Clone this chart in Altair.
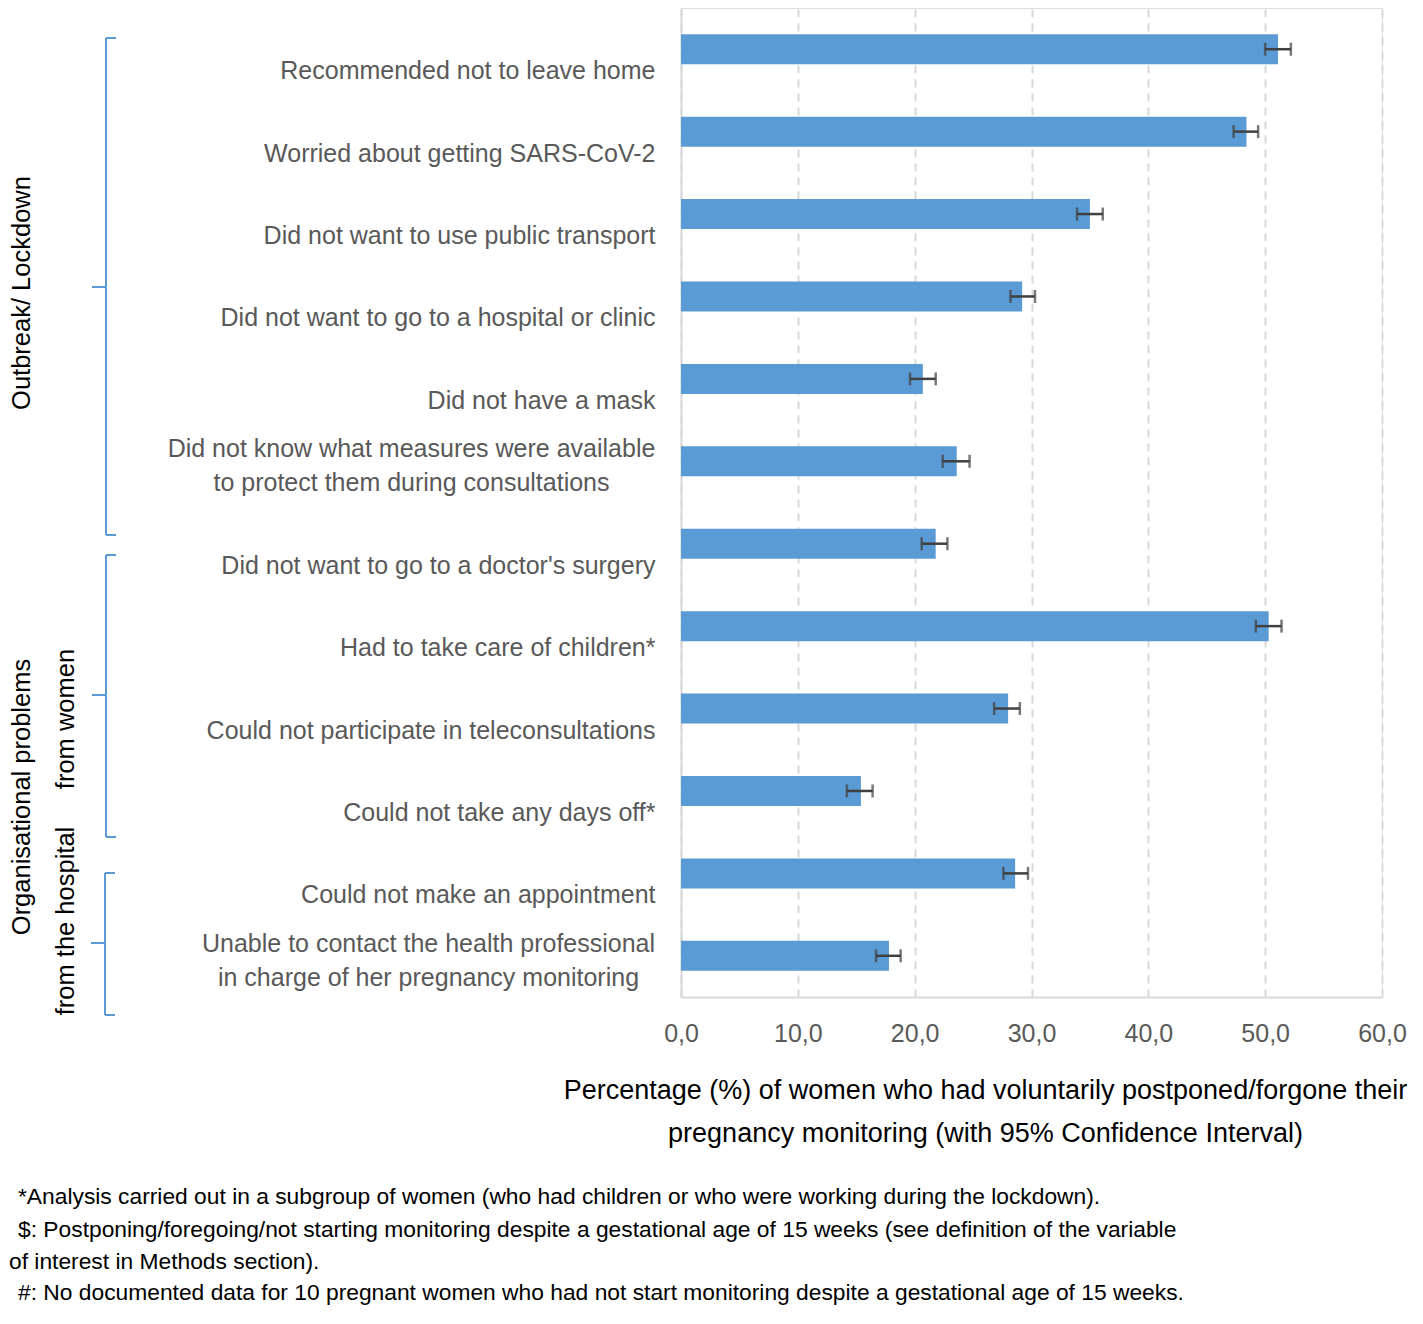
import altair as alt
import pandas as pd

# ---------------- data ----------------
categories = [
    "Recommended not to leave home",
    "Worried about getting SARS-CoV-2",
    "Did not want to use public transport",
    "Did not want to go to a hospital or clinic",
    "Did not have a mask",
    "Did not know what measures were available|to protect them during consultations",
    "Did not want to go to a doctor's surgery",
    "Had to take care of children*",
    "Could not participate in teleconsultations",
    "Could not take any days off*",
    "Could not make an appointment",
    "Unable to contact the health professional|in charge of her pregnancy monitoring",
]
pct = [51.1, 48.4, 35.0, 29.2, 20.7, 23.6, 21.8, 50.3, 28.0, 15.4, 28.6, 17.8]
ci_low = [50.0, 47.3, 33.9, 28.2, 19.6, 22.4, 20.6, 49.2, 26.8, 14.2, 27.6, 16.7]
ci_high = [52.2, 49.4, 36.1, 30.3, 21.8, 24.7, 22.8, 51.4, 29.0, 16.4, 29.7, 18.8]
x_ticks = [0, 10, 20, 30, 40, 50, 60]

x_title = [
    "Percentage (%) of women who had voluntarily postponed/forgone their",
    "pregnancy monitoring (with 95% Confidence Interval)",
]
group_labels = ["Outbreak/ Lockdown", "Organisational problems", "from women", "from the hospital"]
footnotes = [
    "*Analysis carried out in a subgroup of women (who had children or who were working during the lockdown).",
    "$: Postponing/foregoing/not starting monitoring despite a gestational age of 15 weeks (see definition of the variable",
    "of interest in Methods section).",
    "#: No documented data for 10 pregnant women who had not start monitoring despite a gestational age of 15 weeks.",
]

# ---------------- layout / styles (pixels relative to plot origin) ----------------
FONT = "Liberation Sans, Arial, sans-serif"
FS_LAB = 25
FS_TITLE = 27
FS_GRP = 25.5
FS_FOOT = 22.8
W, H = 701, 989
BLUE = "#5B9BD5"
GREY_TXT = "#595959"
GRID = "#d9d9d9"
ERR = "#404040"

group_x = [-659, -659, -615, -615]
group_y = [285, 789, 711, 913]
foot_x = [-663, -663, -672, -663]
foot_y = [1189, 1222, 1254, 1285]

# brackets: (x of spine, top, mid, bottom)
brackets = [(-575, 30, 279, 527), (-575, 547, 687, 829), (-576, 865, 935, 1007)]
seg_rows = []
for bx, top, mid, bot in brackets:
    seg_rows.append(dict(x=bx, x2=bx, y=top, y2=bot))
    seg_rows.append(dict(x=bx, x2=bx + 10, y=top, y2=top))
    seg_rows.append(dict(x=bx, x2=bx + 10, y=bot, y2=bot))
    seg_rows.append(dict(x=bx - 14, x2=bx, y=mid, y2=mid))
seg_df = pd.DataFrame(seg_rows)

df = pd.DataFrame({"reason": categories, "pct": pct, "lo": ci_low, "hi": ci_high})

two_line = "indexof(datum.value, '|') >= 0"
y_axis = alt.Axis(
    title=None,
    domain=True, domainColor=GRID, domainWidth=2,
    ticks=False, grid=False,
    labelExpr="split(datum.label, '|')",
    labelFont=FONT, labelFontSize=FS_LAB, labelColor=GREY_TXT, labelLimit=900,
    labelLineHeight=34, labelBaseline="middle", labelOverlap=False,
    labelAlign={"condition": {"test": two_line, "value": "center"}, "value": "right"},
    labelPadding={"condition": [
        {"test": "indexof(datum.value, 'Did not know') >= 0", "value": 270},
        {"test": "indexof(datum.value, 'Unable to contact') >= 0", "value": 253},
    ], "value": 26},
    labelOffset={"condition": {"test": two_line, "value": -12}, "value": 22},
)
x_axis = alt.Axis(
    values=x_ticks,
    labelExpr="replace(format(datum.value, '.1f'), '.', ',')",
    grid=True, gridColor=GRID, gridWidth=2, gridDash=[8, 6],
    domain=True, domainColor=GRID, domainWidth=2, ticks=False,
    labelFont=FONT, labelFontSize=FS_LAB, labelColor=GREY_TXT, labelPadding=24,
    labelFlush=False,
    title=x_title, titleFont=FONT, titleFontSize=FS_TITLE, titleFontWeight="normal",
    titleColor="black", titleX=304, titleY=80, titleAlign="center",
    titleBaseline="top", titleLineHeight=43, titleAngle=0,
)

yenc = alt.Y("reason:N", sort=categories, scale=alt.Scale(paddingInner=0, paddingOuter=0), axis=y_axis)
xscale = alt.Scale(domain=[0, 60], nice=False, zero=True)

base = alt.Chart(df)
bars = base.mark_bar(color=BLUE, size=30).encode(
    x=alt.X("pct:Q", scale=xscale, axis=x_axis), y=yenc
)
err = base.mark_rule(color=ERR, strokeWidth=2.5).encode(
    x=alt.X("lo:Q", scale=xscale), x2="hi:Q", y=yenc
)
cap_lo = base.mark_tick(color=ERR, thickness=2.5, size=13).encode(
    x=alt.X("lo:Q", scale=xscale), y=yenc
)
cap_hi = base.mark_tick(color=ERR, thickness=2.5, size=13).encode(
    x=alt.X("hi:Q", scale=xscale), y=yenc
)

brk = alt.Chart(seg_df).mark_rule(color=BLUE, strokeWidth=2).encode(
    x=alt.X("x:Q", scale=None, axis=None), x2="x2:Q",
    y=alt.Y("y:Q", scale=None, axis=None), y2="y2:Q",
)

grp_df = pd.DataFrame({"t": group_labels, "x": group_x, "y": group_y})
grp = alt.Chart(grp_df).mark_text(
    angle=270, font=FONT, fontSize=FS_GRP, color="black", align="center", baseline="middle"
).encode(
    x=alt.X("x:Q", scale=None, axis=None), y=alt.Y("y:Q", scale=None, axis=None), text="t:N"
)

foot_df = pd.DataFrame({"t": footnotes, "x": foot_x, "y": foot_y})
foot = alt.Chart(foot_df).mark_text(
    font=FONT, fontSize=FS_FOOT, color="black", align="left", baseline="middle"
).encode(
    x=alt.X("x:Q", scale=None, axis=None), y=alt.Y("y:Q", scale=None, axis=None), text="t:N"
)

chart = alt.layer(bars, err, cap_lo, cap_hi, brk, grp, foot).properties(
    width=W, height=H,
    autosize=alt.AutoSizeParams(type="none"),
    padding={"left": 673, "top": 0, "right": 33, "bottom": 313},
).configure_view(stroke=None).configure(background="white")

chart.save("out.html", embed_options={"renderer": "svg", "actions": False})
